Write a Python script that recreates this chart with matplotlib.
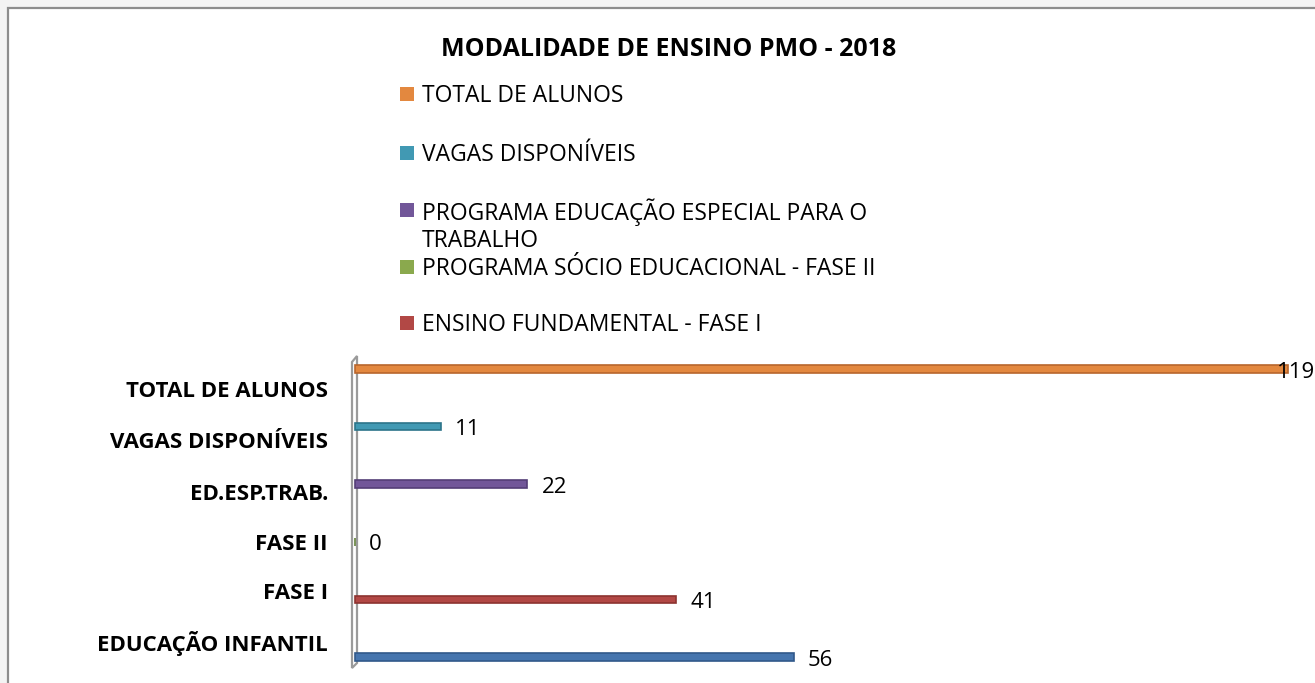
import matplotlib
matplotlib.use("Agg")
import matplotlib.pyplot as plt
from matplotlib.patches import Rectangle, Polygon
import numpy as np

plt.rcParams['font.family'] = ['Open Sans', 'DejaVu Sans']

# Data
categories = ["EDUCAÇÃO INFANTIL", "FASE I", "FASE II", "ED.ESP.TRAB.",
              "VAGAS DISPONÍVEIS", "TOTAL DE ALUNOS"]
series_names = ["EDUCAÇÃO INFANTIL", "ENSINO FUNDAMENTAL - FASE I",
                "PROGRAMA SÓCIO EDUCACIONAL - FASE II",
                "PROGRAMA EDUCAÇÃO ESPECIAL PARA O\nTRABALHO",
                "VAGAS DISPONÍVEIS", "TOTAL DE ALUNOS"]
values = [56, 41, 0, 22, 11, 119]
colors = ["#4675AE", "#B24845", "#8AA94D", "#725799", "#4199B3", "#E3883F"]
edges = ["#31598A", "#8C3330", "#62803A", "#543E77", "#2C748A", "#B8662C"]
title = "MODALIDADE DE ENSINO PMO - 2018"

W, H = 1315, 683
fig = plt.figure(figsize=(W / 100, H / 100), dpi=100, facecolor="#F3F3F3")


def fx(x):
    return x / W


def fy(y):
    return 1 - y / H


# chart area with grey frame
fig.patches.append(Rectangle((fx(8), fy(H + 5)), fx(W + 5) - fx(8), fy(8) - fy(H + 5),
                             transform=fig.transFigure, facecolor="white",
                             edgecolor="#8C8C8C", linewidth=1.6, zorder=-5))

# plot area
ax_left, ax_right, ax_top, ax_bot = 355, 1315, 352, 668
ax = fig.add_axes([fx(ax_left), fy(ax_bot), fx(ax_right) - fx(ax_left),
                   fy(ax_top) - fy(ax_bot)])
px_per_unit_x = 7.84
px_per_unit_y = 57.6
ax.set_xlim(0, (ax_right - ax_left) / px_per_unit_x)
ax.set_ylim(-(ax_bot - 657) / px_per_unit_y,
            (len(categories) - 1) + (369 - ax_top) / px_per_unit_y)
ax.set_facecolor("none")
for s in ax.spines.values():
    s.set_visible(False)
ax.set_xticks([])

ypos = np.arange(len(categories))
bar_h = 7.5 / px_per_unit_y
bars = ax.barh(ypos, values, height=bar_h, color=colors, edgecolor=edges,
               linewidth=1.2, zorder=3, clip_on=False)

xmax = ax.get_xlim()[1]
for y, v in zip(ypos, values):
    tx = v + 14 / px_per_unit_x
    ha = "left"
    if tx + 34 / px_per_unit_x > xmax:
        tx, ha = xmax, "right"
    ax.text(tx, y - 3 / px_per_unit_y, f"{v}", ha=ha, va="center",
            fontsize=16, color="black", zorder=5)

# category labels sit on the front plane of the 3-D box
label_px = [641, 591, 542, 492, 440, 389]
ax.set_yticks([(657 - p) / px_per_unit_y for p in label_px])
ax.set_yticklabels(categories, fontsize=16, fontweight="bold")
ax.tick_params(axis="y", length=0, pad=(ax_left - 328) * 0.72)

# side wall
wall = Polygon([(fx(352), fy(362)), (fx(357), fy(356)), (fx(357), fy(663)),
                (fx(352), fy(668))], closed=True, transform=fig.transFigure,
               facecolor="white", edgecolor="#9A9A9A", linewidth=1.6,
               zorder=-1)
fig.patches.append(wall)

# title
fig.text(fx(669), fy(50), title, ha="center", va="center", fontsize=18,
         fontweight="bold")

# legend (top series first)
leg_y = [94, 153, 210, 267, 323]
for i, y in enumerate(leg_y):
    k = len(series_names) - 1 - i
    fig.patches.append(Rectangle((fx(400), fy(y + 7)), fx(14), 14 / H,
                                 transform=fig.transFigure,
                                 facecolor=colors[k], edgecolor="none"))
    lines = series_names[k].split("\n")
    fig.text(fx(422), fy(y + 2), lines[0], ha="left", va="center", fontsize=16.5)
    if len(lines) > 1:
        fig.text(fx(422), fy(y + 31), lines[1], ha="left", va="center",
                 fontsize=16.5)

fig.savefig("out.png", dpi=100, facecolor=fig.get_facecolor())
